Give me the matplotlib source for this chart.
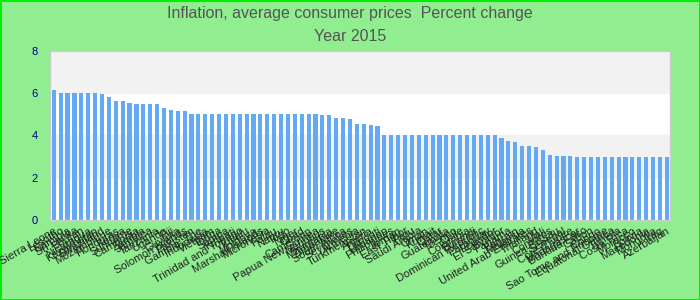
import matplotlib
matplotlib.use('Agg')
import matplotlib.pyplot as plt
import numpy as np

plt.rcParams['font.family'] = ['Liberation Sans', 'DejaVu Sans']

# Negara (urutan seperti di grafik) dan nilai inflasi 2015
negara = [
    'Sierra Leone', 'Lesotho', 'Namibia', 'Sri Lanka', 'Bhutan', 'Nicaragua',
    'Kazakhstan', 'Swaziland', 'Mozambique', 'Honduras', 'Kenya', 'Suriname',
    'Cambodia', 'Zambia', 'Jamaica', 'Tanzania', 'Uganda', 'Fiji', 'Guyana',
    'Solomon Islands', 'Pakistan', 'Gambia, The', 'Indonesia', 'Vietnam',
    'Tonga', 'Samoa', 'Kiribati', 'Trinidad and Tobago', 'Tuvalu', 'Moldova',
    'Marshall Islands', 'Micronesia', 'Palau', 'Nauru', 'Togo', 'Niger', 'Chad',
    'Cameroon', 'Papua New Guinea', 'Mauritius', 'Mauritania', 'Zimbabwe',
    'South Africa', 'Seychelles', 'Armenia', 'Turkmenistan', 'Algeria',
    'Djibouti', 'Lebanon', 'Philippines', 'Jordan', 'East Timor', 'Peru',
    'Saudi Arabia', 'Oman', 'Kuwait', 'Qatar', 'Guatemala', 'Mexico', 'Chile',
    'Colombia', 'Burundi', 'Dominican Republic', 'Paraguay', 'Ecuador',
    'El Salvador', 'Panama', 'Bahrain', 'Malaysia', 'United Arab Emirates',
    'Thailand', 'Mali', 'Comoros', 'Guinea-Bissau', 'Senegal', "Cote d'Ivoire",
    'Madagascar', 'Burkina Faso', 'Gabon', 'Congo', 'Sao Tome and Principe',
    'Equatorial Guinea', 'Tunisia', 'Costa Rica', 'Morocco', 'Bolivia',
    'Macedonia', 'Mongolia', 'Iraq', 'Azerbaijan',
]
inflasi = [
    6.15, 6.0, 6.0, 6.0, 6.0, 6.0, 6.0, 5.95, 5.81, 5.62, 5.62, 5.53,
    5.48, 5.48, 5.48, 5.48, 5.29, 5.2, 5.15, 5.15,
    5.0, 5.0, 5.0, 5.0, 5.0, 5.0, 5.0, 5.0, 5.0, 5.0,
    5.0, 5.0, 5.0, 5.0, 5.0, 5.0, 5.0, 5.0, 5.0,
    4.96, 4.96, 4.82, 4.82, 4.77, 4.54, 4.54, 4.49, 4.44,
    4.0, 4.0, 4.0, 4.0, 4.0, 4.0, 4.0, 4.0, 4.0, 4.0,
    4.0, 4.0, 4.0, 4.0, 4.0, 4.0, 4.0,
    3.87, 3.73, 3.69, 3.5, 3.5, 3.45, 3.31, 3.07, 3.03, 3.03, 3.03,
    3.0, 3.0, 3.0, 3.0, 3.0, 3.0, 3.0, 3.0, 3.0, 3.0, 3.0, 3.0, 3.0, 3.0,
]
yticks = [0, 2, 4, 6, 8]

fig = plt.figure(figsize=(7, 3), dpi=100, facecolor='#90ee90',
                 edgecolor='#00ee00', linewidth=2)
ax = fig.add_axes([0.0714, 0.2667, 0.8857, 0.5633])
ax.set_facecolor('white')

# pita abu-abu selang-seling
for lo in [2, 6]:
    ax.axhspan(lo, lo + 2, color='#f2f2f2', zorder=0)

x = np.arange(len(negara))
ax.bar(x, inflasi, width=0.6, color='#63a9f4', zorder=2)

ax.set_xlim(-0.55, len(negara) - 0.55)
ax.set_ylim(0, 8)
ax.set_yticks(yticks)
ax.set_yticklabels([str(v) for v in yticks], color='#00008b', fontsize=8)
ax.tick_params(axis='y', length=0, pad=9)
ax.set_xticks(x)
ax.set_xticklabels(negara, rotation=30, ha='right', va='top',
                   rotation_mode='anchor', fontsize=8, color='#222222')
ax.tick_params(axis='x', length=0, pad=4)
for s in ax.spines.values():
    s.set_color('#cccccc')
    s.set_linewidth(1)

fig.text(0.5, 0.955, 'Inflation, average consumer prices  Percent change',
         ha='center', va='center', fontsize=11.5, color='#555555')
fig.text(0.5, 0.878, 'Year 2015', ha='center', va='center',
         fontsize=11.5, color='#555555')

fig.savefig('out.png', dpi=100, facecolor=fig.get_facecolor(),
            edgecolor=fig.get_edgecolor())
